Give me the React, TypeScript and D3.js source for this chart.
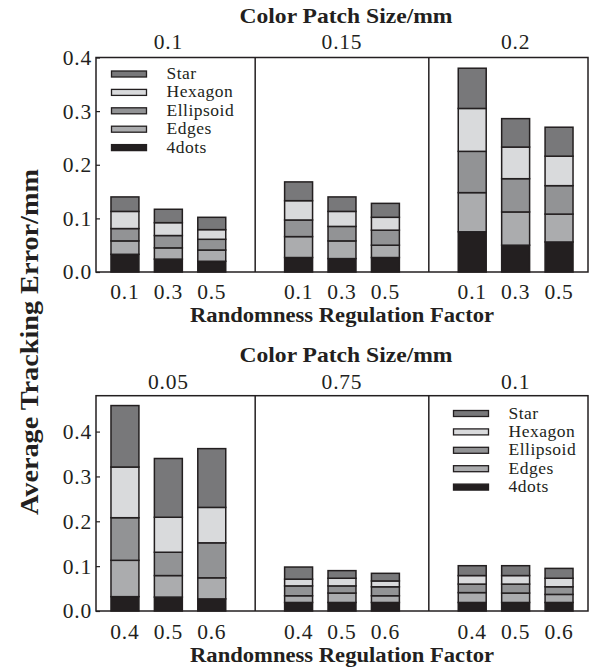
import React, { useEffect, useRef } from 'react';
import * as d3 from 'd3';

// series, bottom of the stack first
const seriesNames = ['4dots', 'Edges', 'Ellipsoid', 'Hexagon', 'Star'];
const seriesColors = ['#231f20', '#abacae', '#929395', '#d9dadc', '#78787a'];

// top figure
const topPatchSizes = ['0.1', '0.15', '0.2'];
const topFactors = ['0.1', '0.3', '0.5'];
const topYTicks = [0, 0.1, 0.2, 0.3, 0.4];
const top4dots = [0.033, 0.024, 0.020, 0.027, 0.025, 0.027, 0.075, 0.050, 0.056];
const topEdges = [0.025, 0.021, 0.021, 0.039, 0.033, 0.023, 0.073, 0.062, 0.052];
const topEllipsoid = [0.023, 0.023, 0.020, 0.031, 0.027, 0.028, 0.077, 0.062, 0.053];
const topHexagon = [0.032, 0.024, 0.018, 0.036, 0.028, 0.024, 0.080, 0.059, 0.055];
const topStar = [0.027, 0.025, 0.023, 0.035, 0.027, 0.026, 0.075, 0.053, 0.054];

// bottom figure
const bottomPatchSizes = ['0.05', '0.75', '0.1'];
const bottomFactors = ['0.4', '0.5', '0.6'];
const bottomYTicks = [0, 0.1, 0.2, 0.3, 0.4];
const bottom4dots = [0.032, 0.031, 0.027, 0.019, 0.019, 0.019, 0.019, 0.019, 0.019];
const bottomEdges = [0.081, 0.048, 0.047, 0.015, 0.021, 0.015, 0.022, 0.021, 0.018];
const bottomEllipsoid = [0.095, 0.052, 0.078, 0.022, 0.016, 0.020, 0.019, 0.020, 0.017];
const bottomHexagon = [0.113, 0.078, 0.079, 0.015, 0.017, 0.013, 0.019, 0.019, 0.019];
const bottomStar = [0.137, 0.131, 0.131, 0.027, 0.017, 0.017, 0.022, 0.022, 0.022];

const font = '"Liberation Serif", "Times New Roman", serif';
const ink = '#231f20';

const App = () => {
  const svgRef = useRef(null);

  useEffect(() => {
    const width = 595;
    const height = 668;
    const svg = d3.select(svgRef.current);
    svg.selectAll('*').remove();
    svg.attr('viewBox', [0, 0, width, height]);

    const left = 96;
    const right = 588;

    // 11 slots: 3 groups of 3 bars with an empty slot between groups
    const slots = [];
    [0, 1, 2].forEach(g => {
      [0, 1, 2].forEach(f => slots.push(`${g}-${f}`));
      if (g < 2) slots.push(`gap${g}`);
    });
    const x = d3.scaleBand()
      .domain(slots)
      .range([left, right])
      .paddingInner(0.356)
      .paddingOuter(0.345);
    const barKeys = slots.filter(s => !s.startsWith('gap'));

    const drawPanel = (cfg) => {
      const { top, bottom, yMax, ticks, patchSizes, factors, values, legendX, legendY, offs } = cfg;
      const g = svg.append('g');
      const y = d3.scaleLinear().domain([0, yMax]).range([bottom, top]);

      const rows = barKeys.map((k, i) => {
        const r = { key: k };
        seriesNames.forEach((s, j) => { r[s] = values[j][i]; });
        return r;
      });
      const stacked = d3.stack().keys(seriesNames)(rows);

      g.selectAll('g.layer')
        .data(stacked)
        .join('g')
        .attr('class', 'layer')
        .attr('fill', (d, i) => seriesColors[i])
        .selectAll('rect')
        .data(d => d)
        .join('rect')
        .attr('x', d => x(d.data.key))
        .attr('width', x.bandwidth())
        .attr('y', d => y(d[1]))
        .attr('height', d => y(d[0]) - y(d[1]))
        .attr('stroke', ink)
        .attr('stroke-width', 1.5);

      // frame and group dividers
      g.append('rect')
        .attr('x', left)
        .attr('y', top)
        .attr('width', right - left)
        .attr('height', bottom - top)
        .attr('fill', 'none')
        .attr('stroke', ink)
        .attr('stroke-width', 1.5);
      ['gap0', 'gap1'].forEach(k => {
        const cx = x(k) + x.bandwidth() / 2;
        g.append('line')
          .attr('x1', cx).attr('x2', cx)
          .attr('y1', top).attr('y2', bottom)
          .attr('stroke', ink)
          .attr('stroke-width', 1.5);
      });

      // y axis, ticks pointing inward
      const yAxis = g.append('g')
        .attr('transform', `translate(${left},0)`)
        .call(d3.axisLeft(y).tickValues(ticks).tickSize(-4).tickPadding(4).tickFormat(d3.format('.1f')));
      yAxis.select('.domain').remove();
      yAxis.selectAll('line').attr('stroke', ink).attr('stroke-width', 1.2);
      yAxis.selectAll('text')
        .attr('font-family', font)
        .attr('font-size', 21.5)
        .attr('letter-spacing', 0.8)
        .attr('fill', ink);

      // x tick labels
      g.selectAll('text.xtick')
        .data(barKeys)
        .join('text')
        .attr('class', 'xtick')
        .attr('x', d => x(d) + x.bandwidth() / 2)
        .attr('y', offs.xtick)
        .attr('text-anchor', 'middle')
        .attr('font-family', font)
        .attr('font-size', 21.5)
        .attr('letter-spacing', 0.8)
        .attr('fill', ink)
        .text(d => factors[+d.split('-')[1]]);

      // patch size labels above each group
      g.selectAll('text.patch')
        .data(patchSizes)
        .join('text')
        .attr('class', 'patch')
        .attr('x', (d, i) => x(`${i}-1`) + x.bandwidth() / 2)
        .attr('y', offs.patch)
        .attr('text-anchor', 'middle')
        .attr('font-family', font)
        .attr('font-size', 21.5)
        .attr('letter-spacing', 0.8)
        .attr('fill', ink)
        .text(d => d);

      g.append('text')
        .attr('x', 346)
        .attr('y', offs.title)
        .attr('text-anchor', 'middle')
        .attr('font-family', font)
        .attr('font-weight', 'bold')
        .attr('font-size', 21)
        .attr('textLength', 213)
        .attr('lengthAdjust', 'spacingAndGlyphs')
        .attr('fill', ink)
        .text('Color Patch Size/mm');

      g.append('text')
        .attr('x', 342)
        .attr('y', offs.xlabel)
        .attr('text-anchor', 'middle')
        .attr('font-family', font)
        .attr('font-weight', 'bold')
        .attr('font-size', 20.5)
        .attr('textLength', 304)
        .attr('lengthAdjust', 'spacingAndGlyphs')
        .attr('fill', ink)
        .text('Randomness Regulation Factor');

      // legend, Star on top
      const legend = g.append('g').attr('transform', `translate(${legendX},${legendY})`);
      const order = seriesNames.map((s, i) => i).reverse();
      order.forEach((si, row) => {
        const ly = row * 18.4;
        legend.append('rect')
          .attr('x', 0)
          .attr('y', ly - 3)
          .attr('width', 35)
          .attr('height', 6)
          .attr('fill', seriesColors[si])
          .attr('stroke', ink)
          .attr('stroke-width', 1.3);
        legend.append('text')
          .attr('x', 55)
          .attr('y', ly + 5)
          .attr('font-family', font)
          .attr('font-size', 17.5)
          .attr('letter-spacing', 0.5)
          .attr('fill', ink)
          .text(seriesNames[si]);
      });
    };

    drawPanel({
      top: 57.5, bottom: 272, yMax: 0.4, ticks: topYTicks,
      patchSizes: topPatchSizes, factors: topFactors,
      values: [top4dots, topEdges, topEllipsoid, topHexagon, topStar],
      legendX: 111.5, legendY: 74,
      offs: { title: 22.5, patch: 48.5, xtick: 298.5, xlabel: 321.5 },
    });

    drawPanel({
      top: 395.7, bottom: 611, yMax: 0.48, ticks: bottomYTicks,
      patchSizes: bottomPatchSizes, factors: bottomFactors,
      values: [bottom4dots, bottomEdges, bottomEllipsoid, bottomHexagon, bottomStar],
      legendX: 453.5, legendY: 413.5,
      offs: { title: 361.5, patch: 388.5, xtick: 638.5, xlabel: 661.5 },
    });

    // shared y label
    svg.append('text')
      .attr('transform', 'translate(38,342) rotate(-90)')
      .attr('text-anchor', 'middle')
      .attr('font-family', font)
      .attr('font-weight', 'bold')
      .attr('font-size', 25)
      .attr('textLength', 346)
      .attr('lengthAdjust', 'spacingAndGlyphs')
      .attr('fill', ink)
      .text('Average Tracking Error/mm');
  }, []);

  return (
    <svg
      ref={svgRef}
      width={595}
      height={668}
      style={{ position: 'absolute', left: 0, top: 0, background: '#fff' }}
    ></svg>
  );
};

export default App;
